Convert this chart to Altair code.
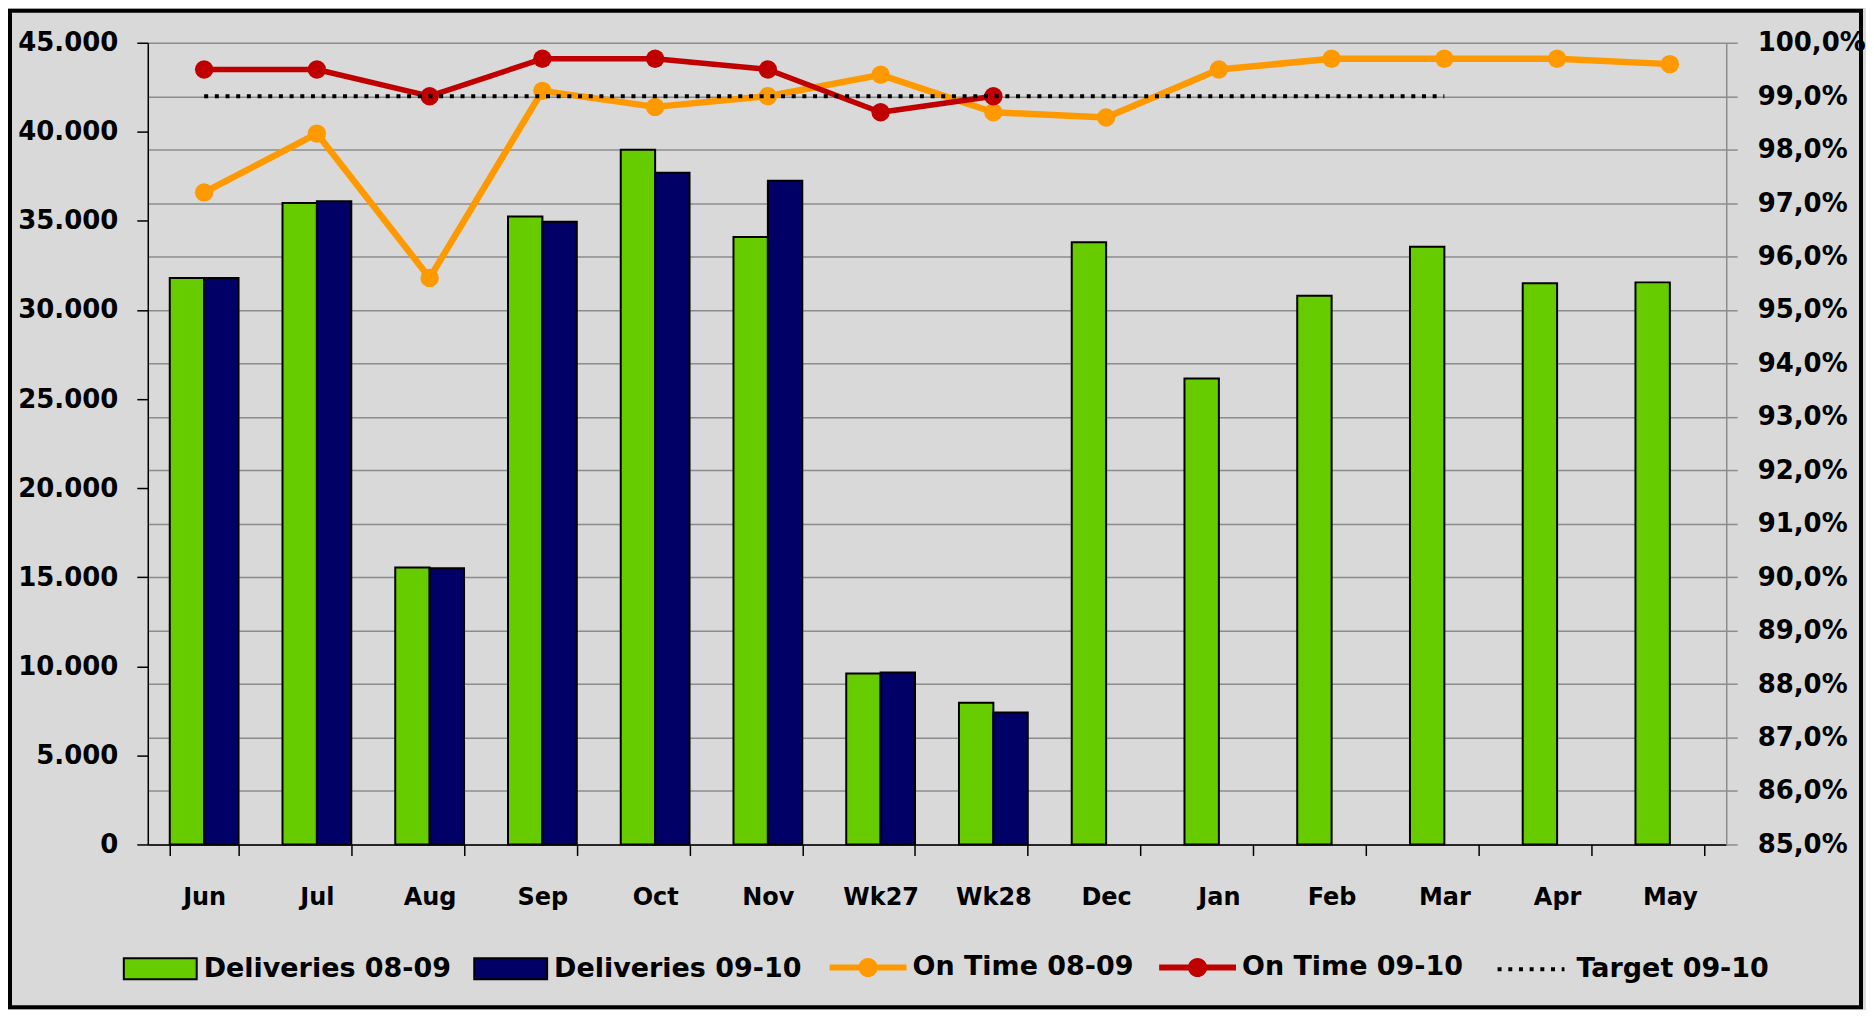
import altair as alt
import pandas as pd

# ---------------- data ----------------
months = ["Jun", "Jul", "Aug", "Sep", "Oct", "Nov", "Wk27", "Wk28",
          "Dec", "Jan", "Feb", "Mar", "Apr", "May"]
deliveries_0809 = [31800, 36000, 15550, 35250, 39000, 34100, 9600, 7950,
                   33800, 26150, 30800, 33550, 31500, 31550]
deliveries_0910 = [31800, 36100, 15500, 34950, 37700, 37250, 9650, 7400]
ontime_0809 = [0.972, 0.983, 0.956, 0.991, 0.988, 0.990, 0.994, 0.987,
               0.986, 0.995, 0.997, 0.997, 0.997, 0.996]
ontime_0910 = [0.995, 0.995, 0.990, 0.997, 0.997, 0.995, 0.987, 0.990]
target_0910 = [0.99, 0.99, 0.99, 0.99, 0.99, 0.99, 0.99, 0.99, 0.99, 0.99, 0.99, 0.99]

bar_series = ["Deliveries 08-09", "Deliveries 09-10"]
line_series = ["On Time 08-09", "On Time 09-10"]
target_series = ["Target 09-10"]
left_ticks = [0, 5000, 10000, 15000, 20000, 25000, 30000, 35000, 40000, 45000]
right_ticks = [0.85, 0.86, 0.87, 0.88, 0.89, 0.90, 0.91, 0.92, 0.93, 0.94,
               0.95, 0.96, 0.97, 0.98, 0.99, 1.00]

GREEN, NAVY, ORANGE, RED = "#66cc00", "#000066", "#ff9900", "#c00000"
BG = "#d9d9d9"
GRID = "#8c8c8c"
FONT = "DejaVu Sans"

bars_df = pd.concat([
    pd.DataFrame({"month": months, "series": bar_series[0], "value": deliveries_0809}),
    pd.DataFrame({"month": months[:len(deliveries_0910)], "series": bar_series[1],
                  "value": deliveries_0910}),
])
ot0809_df = pd.DataFrame({"month": months, "series": line_series[0], "pct": ontime_0809})
ot0910_df = pd.DataFrame({"month": months[:len(ontime_0910)], "series": line_series[1],
                          "pct": ontime_0910})
target_df = pd.DataFrame({"month": months[:len(target_0910)], "series": target_series[0],
                          "pct": target_0910})

W, H = 1581, 803

X = alt.X(
    "month:N",
    scale=alt.Scale(domain=months, paddingInner=0.39, paddingOuter=0.195),
    axis=alt.Axis(title=None, labelFont=FONT, labelFontSize=24, labelFontWeight="bold",
                  labelColor="black", labelPadding=30, labelAngle=0, tickBand="extent",
                  tickSize=11, tickColor="black", tickWidth=1.5, domainColor="black",
                  domainWidth=1.5, grid=False),
)

Y_LEFT = alt.Y(
    "value:Q",
    scale=alt.Scale(domain=[0, 45000], nice=False, zero=True),
    axis=alt.Axis(title=None, orient="left", values=left_ticks,
                  labelExpr="replace(format(datum.value, ','), ',', '.')",
                  labelFont=FONT, labelFontSize=26, labelFontWeight="bold",
                  labelColor="black", labelPadding=19, tickSize=11, tickColor="black",
                  tickWidth=1.5, domainColor="black", domainWidth=1.5, grid=False),
)

Y_RIGHT = alt.Y(
    "pct:Q",
    scale=alt.Scale(domain=[0.85, 1.0], nice=False, zero=False),
    axis=alt.Axis(title=None, orient="right", values=right_ticks,
                  labelExpr="replace(format(datum.value, '.1%'), '.', ',')",
                  labelFont=FONT, labelFontSize=26, labelFontWeight="bold",
                  labelColor="black", labelPadding=20, tickSize=11, tickColor=GRID,
                  tickWidth=1.5, domainColor=GRID, domainWidth=1.5, grid=True,
                  gridColor=GRID, gridWidth=1.5),
)

LEG_Y = 926  # legend row centre, relative to plot top

bars = alt.Chart(bars_df).mark_bar(stroke="black", strokeWidth=2).encode(
    x=X,
    xOffset=alt.XOffset("series:N", scale=alt.Scale(domain=bar_series)),
    y=Y_LEFT,
    color=alt.Color(
        "series:N",
        scale=alt.Scale(domain=bar_series, range=[GREEN, NAVY]),
        legend=alt.Legend(
            title=None, orient="none", legendX=-25, legendY=LEG_Y - 36.5,
            direction="horizontal", columns=2, padding=0,
            symbolType="M-1,-0.29H1V0.29H-1Z", symbolSize=5329,
            symbolStrokeColor="black", symbolStrokeWidth=2, symbolOpacity=1,
            labelFont=FONT, labelFontSize=27, labelFontWeight="bold",
            labelColor="black", labelOffset=6, columnPadding=19, labelLimit=600,
        ),
    ),
)

FILL = alt.Fill(
    "series:N",
    scale=alt.Scale(domain=line_series, range=[ORANGE, RED]),
    legend=alt.Legend(
        title=None, orient="none", legendX=683, legendY=LEG_Y - 38.5,
        direction="horizontal", columns=2, padding=0,
        symbolType=("M-1,-0.08H1V0.08H-1Z"
                    "M0.25,0A0.25,0.25,0,1,1,-0.25,0A0.25,0.25,0,1,1,0.25,0Z"),
        symbolSize=5929, symbolStrokeWidth=0, symbolOpacity=1,
        labelFont=FONT, labelFontSize=27, labelFontWeight="bold",
        labelColor="black", labelOffset=6, columnPadding=25, labelLimit=600,
    ),
)

orange_line = alt.Chart(ot0809_df).mark_line(
    color=ORANGE, strokeWidth=6.5, strokeJoin="round", strokeCap="round"
).encode(x=X, y=Y_RIGHT)
orange_pts = alt.Chart(ot0809_df).mark_circle(size=340, opacity=1).encode(
    x=X, y=Y_RIGHT, fill=FILL)
red_line = alt.Chart(ot0910_df).mark_line(
    color=RED, strokeWidth=5.5, strokeJoin="round", strokeCap="round"
).encode(x=X, y=Y_RIGHT)
red_pts = alt.Chart(ot0910_df).mark_circle(size=340, opacity=1).encode(
    x=X, y=Y_RIGHT, fill=FILL)
target = alt.Chart(target_df).mark_line(color="black", strokeWidth=4).encode(
    x=X, y=Y_RIGHT,
    strokeDash=alt.StrokeDash(
        "series:N",
        scale=alt.Scale(domain=target_series, range=[[4, 6.7]]),
        legend=alt.Legend(
            title=None, orient="none", legendX=1350, legendY=LEG_Y - 33.5,
            direction="horizontal", padding=0, symbolType="stroke",
            symbolSize=4489, symbolStrokeWidth=4, symbolStrokeColor="black",
            labelFont=FONT, labelFontSize=27, labelFontWeight="bold",
            labelColor="black", labelOffset=10, labelLimit=600,
        ),
    ),
)

lines = alt.layer(orange_line, orange_pts, red_line, red_pts, target)

frame = alt.Chart(pd.DataFrame({"frame": [0]})).mark_rect(
    fill="transparent", stroke="black", strokeWidth=4, clip=False
).encode(x=alt.value(-138), x2=alt.value(1716), y=alt.value(-32), y2=alt.value(966))

chart = (
    alt.layer(bars, lines, frame)
    .resolve_scale(y="independent")
    .properties(width=W, height=H, padding=0, background=BG)
    .configure_view(stroke=None)
)

chart.save("out.html", embed_options={"renderer": "svg", "actions": False})
